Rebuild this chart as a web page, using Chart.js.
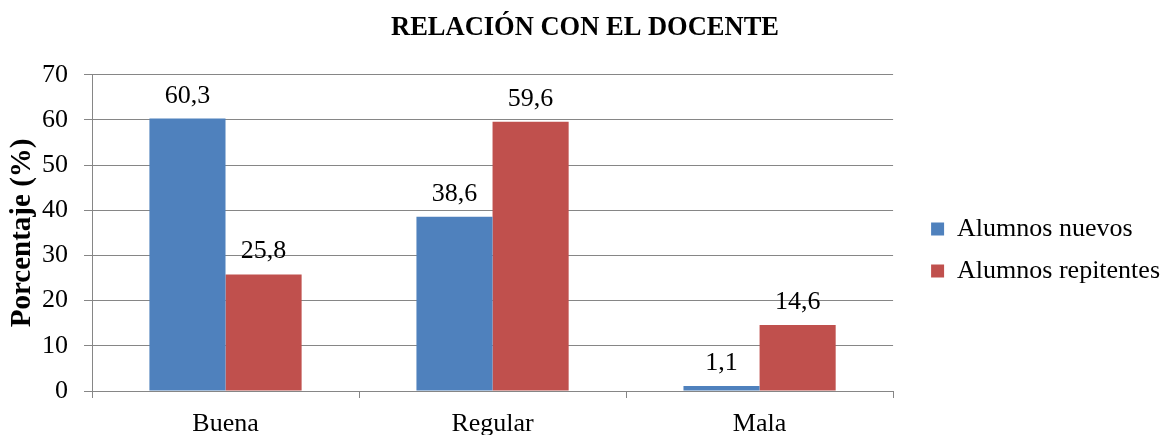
<!DOCTYPE html>
<html lang="es">
<head>
<meta charset="utf-8">
<title>Relación con el docente</title>
<script src="https://cdn.jsdelivr.net/npm/chart.js@4/dist/chart.umd.min.js"></script>
<style>
  html, body { margin: 0; padding: 0; background: #fff; }
  #wrap { width: 1165px; height: 435px; }
</style>
</head>
<body>
<div id="wrap"><canvas id="chart" width="1165" height="435"></canvas></div>
<script>
const categories = ['Buena', 'Regular', 'Mala'];
const alumnosNuevos = [60.3, 38.6, 1.1];
const alumnosRepitentes = [25.8, 59.6, 14.6];
const yTicks = [0, 10, 20, 30, 40, 50, 60, 70];

const FONT = '"Liberation Serif", "Times New Roman", serif';
const GRID = '#868686';

// decimal comma, as in the source
const fmt = v => v.toFixed(1).replace('.', ',');

const valueLabels = {
    id: 'valueLabels',
    afterDatasetsDraw(chart) {
        const ctx = chart.ctx;
        ctx.save();
        ctx.font = '26px ' + FONT;
        ctx.fillStyle = '#000';
        ctx.textAlign = 'center';
        ctx.textBaseline = 'alphabetic';
        chart.data.datasets.forEach((ds, i) => {
            chart.getDatasetMeta(i).data.forEach((bar, j) => {
                ctx.fillText(fmt(ds.data[j]), bar.x, bar.y - 16);
            });
        });
        ctx.restore();
    }
};

new Chart(document.getElementById('chart'), {
    type: 'bar',
    data: {
        labels: categories,
        datasets: [
            {
                label: 'Alumnos nuevos',
                data: alumnosNuevos,
                backgroundColor: '#4F81BD'
            },
            {
                label: 'Alumnos repitentes',
                data: alumnosRepitentes,
                backgroundColor: '#C0504D'
            }
        ]
    },
    options: {
        responsive: false,
        animation: false,
        categoryPercentage: 0.57,
        barPercentage: 1,
        // the legend spans the full height, so the negative bottom pad
        // pushes its centre down a bit; the x axis takes the slack back
        layout: {
            padding: { top: 0, left: 0, right: -5, bottom: -65 }
        },
        scales: {
            x: {
                grid: {
                    display: true,
                    drawOnChartArea: false,
                    tickLength: 7,
                    color: GRID,
                    offset: true
                },
                border: { color: GRID, width: 1 },
                ticks: {
                    color: '#000',
                    font: { family: FONT, size: 26 },
                    padding: 11
                },
                afterFit(scale) {
                    scale.height = 109;
                }
            },
            y: {
                min: 0,
                max: 70,
                afterBuildTicks(scale) {
                    scale.ticks = yTicks.map(v => ({ value: v }));
                },
                afterFit(scale) {
                    scale.width = 92;
                },
                grid: {
                    color: GRID,
                    tickLength: 8
                },
                border: { color: GRID, width: 1 },
                ticks: {
                    color: '#000',
                    font: { family: FONT, size: 26 },
                    padding: 16
                },
                title: {
                    display: true,
                    text: 'Porcentaje (%)',
                    color: '#000',
                    font: { family: FONT, size: 29, weight: 'bold' },
                    padding: { top: 5, bottom: 3 }
                }
            },
            // empty right-hand axis: keeps a gap between plot and legend
            gap: {
                type: 'linear',
                position: 'right',
                grid: { display: false },
                border: { display: false },
                ticks: { display: false },
                afterFit(scale) {
                    scale.width = 22;
                }
            }
        },
        plugins: {
            title: {
                display: true,
                text: 'RELACIÓN CON EL DOCENTE',
                color: '#000',
                font: { family: FONT, size: 26.5, weight: 'bold' },
                padding: { top: 12, bottom: 31 }
            },
            tooltip: { enabled: false },
            legend: {
                position: 'right',
                align: 'center',
                maxWidth: 270,
                labels: {
                    color: '#000',
                    font: { family: FONT, size: 26 },
                    boxWidth: 13,
                    boxHeight: 13,
                    padding: 16
                }
            }
        }
    },
    plugins: [valueLabels]
});
</script>
</body>
</html>
